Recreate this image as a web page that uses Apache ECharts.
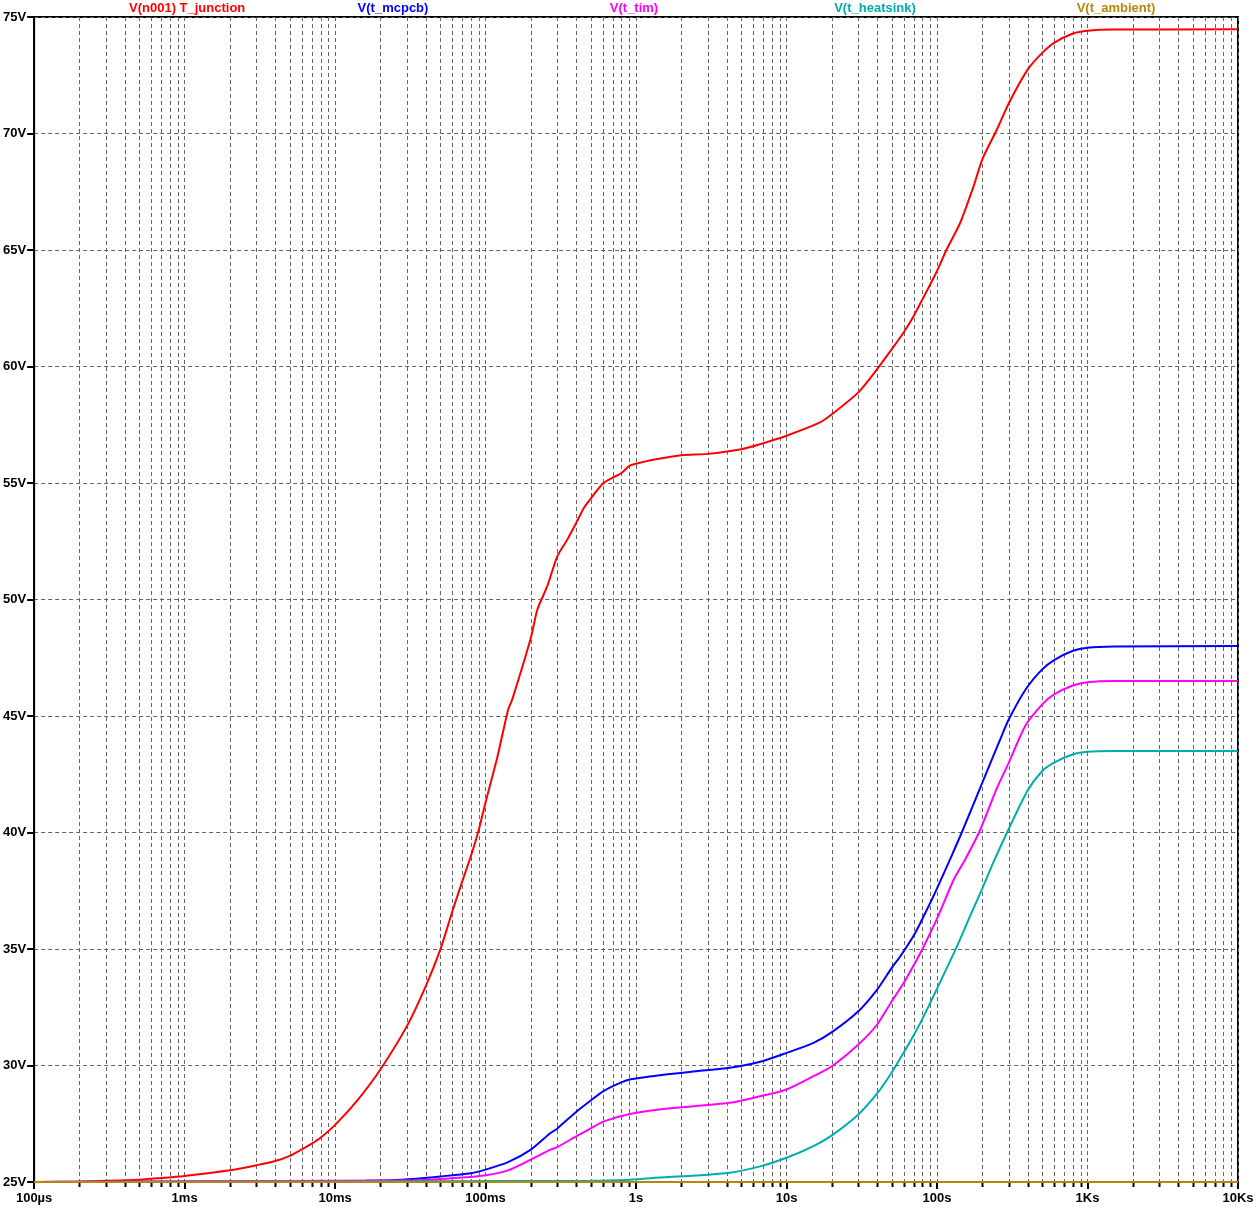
<!DOCTYPE html>
<html>
<head>
<meta charset="utf-8">
<script src="https://cdn.jsdelivr.net/npm/echarts@6/dist/echarts.min.js"></script>
<style>
html,body{margin:0;padding:0;background:#fff;}
#chart{width:1257px;height:1210px;}
</style>
</head>
<body>
<div id="chart"></div>
<script>
// ---- data (time in seconds, temperature shown as volts) ----
const junctionT = [1e-4, 2e-4, 3e-4, 5e-4, 7e-4, 1e-3, 2e-3, 3e-3, 4e-3, 5e-3, 6e-3, 7e-3, 8e-3, 0.01, 0.0142, 0.02, 0.03, 0.04, 0.05, 0.06, 0.07, 0.08, 0.09, 0.1, 0.12, 0.141, 0.15, 0.2, 0.221, 0.257, 0.3, 0.349, 0.4, 0.45, 0.5, 0.6, 0.7, 0.8, 0.9, 1, 1.3, 2, 3, 5, 6.68, 10, 16.7, 20, 30, 40, 50, 60, 70, 80, 100, 116, 142.6, 175, 200, 250, 300, 400, 500, 600, 800, 1000, 1500, 10000];
const junctionV = [25.0, 25.02, 25.05, 25.1, 25.17, 25.26, 25.5, 25.72, 25.9, 26.12, 26.4, 26.65, 26.9, 27.45, 28.54, 29.83, 31.69, 33.4, 34.97, 36.6, 37.9, 39.0, 40.1, 41.3, 43.26, 45.26, 45.69, 48.36, 49.57, 50.57, 51.86, 52.57, 53.29, 53.93, 54.33, 54.97, 55.23, 55.43, 55.73, 55.83, 56.0, 56.19, 56.25, 56.45, 56.67, 57.03, 57.6, 57.95, 58.89, 59.89, 60.74, 61.46, 62.17, 62.88, 64.1, 65.03, 66.17, 67.74, 68.89, 70.17, 71.3, 72.74, 73.46, 73.89, 74.29, 74.41, 74.46, 74.47];

const mcpcbT = [1e-4, 0.016, 0.028, 0.05, 0.08, 0.1, 0.141, 0.2, 0.27, 0.3, 0.405, 0.5, 0.608, 0.75, 0.91, 1.52, 2.5, 4.2, 6.68, 10, 15.1, 20, 30, 40, 50, 56.9, 71.6, 92.5, 100, 125, 146, 200, 263, 300, 388, 500, 600, 800, 1000, 1500, 10000];
const mcpcbV = [25.0, 25.05, 25.1, 25.24, 25.38, 25.53, 25.85, 26.39, 27.1, 27.3, 28.04, 28.5, 28.9, 29.2, 29.4, 29.6, 29.75, 29.9, 30.16, 30.54, 30.97, 31.43, 32.33, 33.26, 34.19, 34.68, 35.69, 37.13, 37.6, 39.0, 40.0, 42.14, 44.0, 44.86, 46.14, 47.0, 47.4, 47.8, 47.93, 47.98, 48.0];

const timT = [1e-4, 0.037, 0.07, 0.1, 0.141, 0.2, 0.27, 0.3, 0.41, 0.5, 0.61, 0.91, 1.52, 4.2, 6.68, 10, 15.1, 20, 30, 40, 50, 60, 70, 80, 100, 129, 152.6, 190, 250, 300, 388, 500, 600, 800, 1000, 1500, 10000];
const timV = [25.0, 25.08, 25.19, 25.29, 25.5, 25.96, 26.39, 26.5, 27.0, 27.3, 27.6, 27.92, 28.13, 28.4, 28.68, 28.97, 29.54, 29.97, 30.9, 31.76, 32.76, 33.54, 34.3, 35.0, 36.3, 37.97, 38.8, 40.0, 41.9, 43.0, 44.6, 45.5, 45.93, 46.31, 46.45, 46.5, 46.5];

const heatsinkT = [1e-4, 0.5, 0.91, 1.52, 2.5, 4.2, 6.68, 10, 15.1, 20, 30, 40, 50, 60, 70, 80, 100, 135.5, 163, 200, 240, 292, 400, 500, 600, 800, 1000, 1500, 10000];
const heatsinkV = [25.0, 25.05, 25.1, 25.2, 25.28, 25.4, 25.67, 26.04, 26.54, 27.0, 27.9, 28.8, 29.7, 30.55, 31.3, 32.0, 33.3, 35.1, 36.3, 37.6, 38.8, 40.0, 41.8, 42.64, 43.0, 43.36, 43.47, 43.5, 43.5];

const ambientT = [1e-4, 10000];
const ambientV = [25.0, 25.0];

const xTickLabels = {'-4': '100µs', '-3': '1ms', '-2': '10ms', '-1': '100ms', '0': '1s', '1': '10s', '2': '100s', '3': '1Ks', '4': '10Ks'};
const decades = [-4, -3, -2, -1, 0, 1, 2, 3];
const minorMultipliers = [2, 3, 4, 5, 6, 7, 8, 9];

const seriesNames = ['V(n001) T_junction', 'V(t_mcpcb)', 'V(t_tim)', 'V(t_heatsink)', 'V(t_ambient)'];
const seriesColors = ['#ff0000', '#0000ff', '#ff00ff', '#00adad', '#b8860b'];

// ---- build ----
function zip(ts, vs) { return ts.map((t, i) => [t, vs[i]]); }
const allSeries = [
  zip(junctionT, junctionV),
  zip(mcpcbT, mcpcbV),
  zip(timT, timV),
  zip(heatsinkT, heatsinkV),
  zip(ambientT, ambientV)
];
const minorTicks = [];
decades.forEach(d => minorMultipliers.forEach(m => minorTicks.push([m * Math.pow(10, d), 25])));

const FONT = 'Liberation Sans, Arial, sans-serif';
const chart = echarts.init(document.getElementById('chart'));

const lineSeries = allSeries.map((data, i) => ({
  name: seriesNames[i],
  type: 'line',
  data: data,
  showSymbol: false,
  symbol: 'none',
  smooth: 0.25,
  clip: false,
  z: 3 + i,
  lineStyle: { color: seriesColors[i], width: 2 },
  itemStyle: { color: seriesColors[i] }
}));

const minorSeries = {
  type: 'custom',
  data: minorTicks,
  z: 1,
  silent: true,
  clip: false,
  renderItem: function (params, api) {
    const t = api.value(0);
    const top = api.coord([t, 75]);
    const bot = api.coord([t, 25]);
    return {
      type: 'group',
      children: [
        { type: 'line', shape: { x1: Math.round(top[0]) + 0.5, y1: top[1], x2: Math.round(bot[0]) + 0.5, y2: bot[1] },
          style: { stroke: '#666666', lineWidth: 1, lineDash: [4, 3] } },
        { type: 'line', shape: { x1: Math.round(bot[0]) + 0.5, y1: bot[1], x2: Math.round(bot[0]) + 0.5, y2: bot[1] + 5 },
          style: { stroke: '#000', lineWidth: 2 } }
      ]
    };
  }
};

const labelPos = [
  { x: 129, align: 'left' },
  { x: 393, align: 'center' },
  { x: 634, align: 'center' },
  { x: 875, align: 'center' },
  { x: 1116, align: 'center' }
];

chart.setOption({
  animation: false,
  backgroundColor: '#ffffff',
  grid: { left: 33, top: 17, width: 1205, height: 1165, show: true, borderColor: '#000', borderWidth: 2, backgroundColor: 'transparent' },
  xAxis: {
    type: 'log', logBase: 10, min: 1e-4, max: 1e4, splitNumber: 8,
    axisLine: { show: true, lineStyle: { color: '#000', width: 2 } },
    axisTick: { show: true, length: 7, lineStyle: { color: '#000', width: 2 } },
    axisLabel: {
      margin: 10, color: '#000', fontFamily: FONT, fontWeight: 'bold', fontSize: 13,
      formatter: function (v) { const k = Math.round(Math.log10(v)); return xTickLabels[String(k)] || ''; }
    },
    splitLine: { show: true, lineStyle: { color: '#666666', width: 1, type: [4, 3] } },
    minorTick: { show: false }, minorSplitLine: { show: false }
  },
  yAxis: {
    type: 'value', min: 25, max: 75, interval: 5,
    axisLine: { show: true, lineStyle: { color: '#000', width: 2 } },
    axisTick: { show: true, length: 7, lineStyle: { color: '#000', width: 2 } },
    axisLabel: { margin: 8, color: '#000', fontFamily: FONT, fontWeight: 'bold', fontSize: 13, formatter: '{value}V' },
    splitLine: { show: true, lineStyle: { color: '#666666', width: 1, type: [4, 3] } }
  },
  graphic: seriesNames.map((n, i) => ({
    type: 'text', x: labelPos[i].x, y: 8, silent: true,
    style: { text: n, fill: seriesColors[i], font: 'bold 13px ' + FONT, textAlign: labelPos[i].align, textVerticalAlign: 'middle' }
  })),
  series: [minorSeries].concat(lineSeries)
});
</script>
</body>
</html>
